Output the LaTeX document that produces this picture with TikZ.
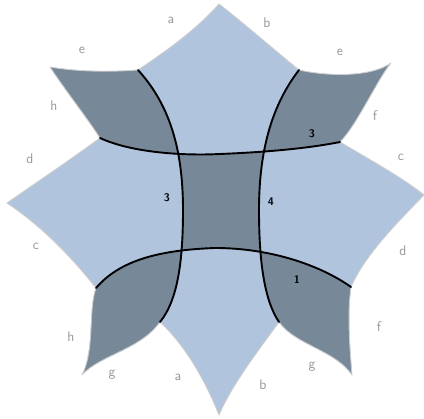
\documentclass[tikz,border=0pt]{standalone}
\usepackage{tikz}
\usepackage{xcolor}
\definecolor{tileLight}{RGB}{176,196,222}
\definecolor{tileDark}{RGB}{119,136,153}
\definecolor{rimGray}{RGB}{205,205,205}
\definecolor{labelGray}{RGB}{150,150,150}
\tikzset{
    rim/.style={draw=rimGray, line width=0.9pt, line join=round},
    seam/.style={draw=black, line width=1.9pt, line cap=round},
    edgelabel/.style={text=labelGray, font=\fontsize{14}{14}\selectfont\sffamily, inner sep=0pt},
    cellnum/.style={text=black, font=\fontsize{11}{11}\selectfont\sffamily\bfseries, inner sep=0pt}
}
% outline of the whole star, corners in pixel units
\newcommand{\starpath}{(138,70) .. controls (168,50) and (198,28) .. (219,4)
    .. controls (247,26) and (272,48) .. (299,70)
    .. controls (325,76) and (370,78) .. (391,63)
    .. controls (377,80) and (357,125) .. (340,142)
    .. controls (370,160) and (400,176) .. (424,195)
    .. controls (395,225) and (365,255) .. (351,287)
    .. controls (347,315) and (350,350) .. (352,375)
    .. controls (335,350) and (295,345) .. (279,322)
    .. controls (255,355) and (232,385) .. (219,415)
    .. controls (205,380) and (185,345) .. (160,322)
    .. controls (140,350) and (100,355) .. (82,375)
    .. controls (95,350) and (88,310) .. (96,288)
    .. controls (70,255) and (40,225) .. (7,203)
    .. controls (40,180) and (70,160) .. (100,138)
    .. controls (85,115) and (65,90) .. (50,67)
    .. controls (80,72) and (110,72) .. (138,70) -- cycle}

\begin{document}
\begin{tikzpicture}[x=1pt, y=-1pt]
    \useasboundingbox (0,0) rectangle (424,419);

    % light star
    \fill[tileLight] \starpath;

    % dark cells: checkerboard of the 3x3 grid
    \begin{scope}
        \clip \starpath;
        \fill[tileDark, even odd rule] (-30,-30) rectangle (460,460)
            (138,70) .. controls (170,105) and (183,150) .. (183,210)
            .. controls (183,260) and (178,300) .. (160,322) -- (160,440) -- (279,440) -- (279,322)
            .. controls (264,300) and (259,260) .. (259,210)
            .. controls (259,150) and (272,105) .. (299,70) -- (299,-20) -- (138,-20) -- cycle
            (100,138) .. controls (130,152) and (180,156) .. (220,154)
            .. controls (270,152) and (310,148) .. (340,142) -- (440,142) -- (440,287) -- (351,287)
            .. controls (320,265) and (270,248) .. (215,248)
            .. controls (160,250) and (120,260) .. (96,288) -- (-20,288) -- (-20,138) -- cycle;
    \end{scope}

    \path[rim] \starpath;

    % seams
    \coordinate (lt) at (138,70);
    \coordinate (lb) at (160,322);
    \coordinate (rt) at (299,70);
    \coordinate (rb) at (279,322);
    \coordinate (tl) at (100,138);
    \coordinate (tr) at (340,142);
    \coordinate (bl) at (96,288);
    \coordinate (br) at (351,287);
    \draw[seam] (lt) .. controls (170,105) and (183,150) .. (183,210)
        .. controls (183,260) and (178,300) .. (lb);
    \draw[seam] (rt) .. controls (272,105) and (259,150) .. (259,210)
        .. controls (259,260) and (264,300) .. (rb);
    \draw[seam] (tl) .. controls (130,152) and (180,156) .. (220,154)
        .. controls (270,152) and (310,148) .. (tr);
    \draw[seam] (bl) .. controls (120,260) and (160,250) .. (215,248)
        .. controls (270,248) and (320,265) .. (br);

    % edge letters
    \node[edgelabel] (aTop) at (171,20) {a};
    \node[edgelabel] (bTop) at (267,23) {b};
    \node[edgelabel] (eLeft) at (82,50) {e};
    \node[edgelabel] (eRight) at (340,52) {e};
    \node[edgelabel] (hTop) at (54,106) {h};
    \node[edgelabel] (fTop) at (375,116) {f};
    \node[edgelabel] (dLeft) at (30,159) {d};
    \node[edgelabel] (cRight) at (401,157) {c};
    \node[edgelabel] (cLeft) at (36,246) {c};
    \node[edgelabel] (dRight) at (403,251) {d};
    \node[edgelabel] (hBottom) at (71,337) {h};
    \node[edgelabel] (fBottom) at (379,327) {f};
    \node[edgelabel] (gLeft) at (112,375) {g};
    \node[edgelabel] (aBottom) at (178,377) {a};
    \node[edgelabel] (gRight) at (312,367) {g};
    \node[edgelabel] (bBottom) at (263,385) {b};

    % cell numbers
    \node[cellnum] (nLeft) at (167,198) {3};
    \node[cellnum] (nTop) at (312,134) {3};
    \node[cellnum] (nMid) at (271,202) {4};
    \node[cellnum] (nLow) at (297,280) {1};
\end{tikzpicture}
\end{document}
